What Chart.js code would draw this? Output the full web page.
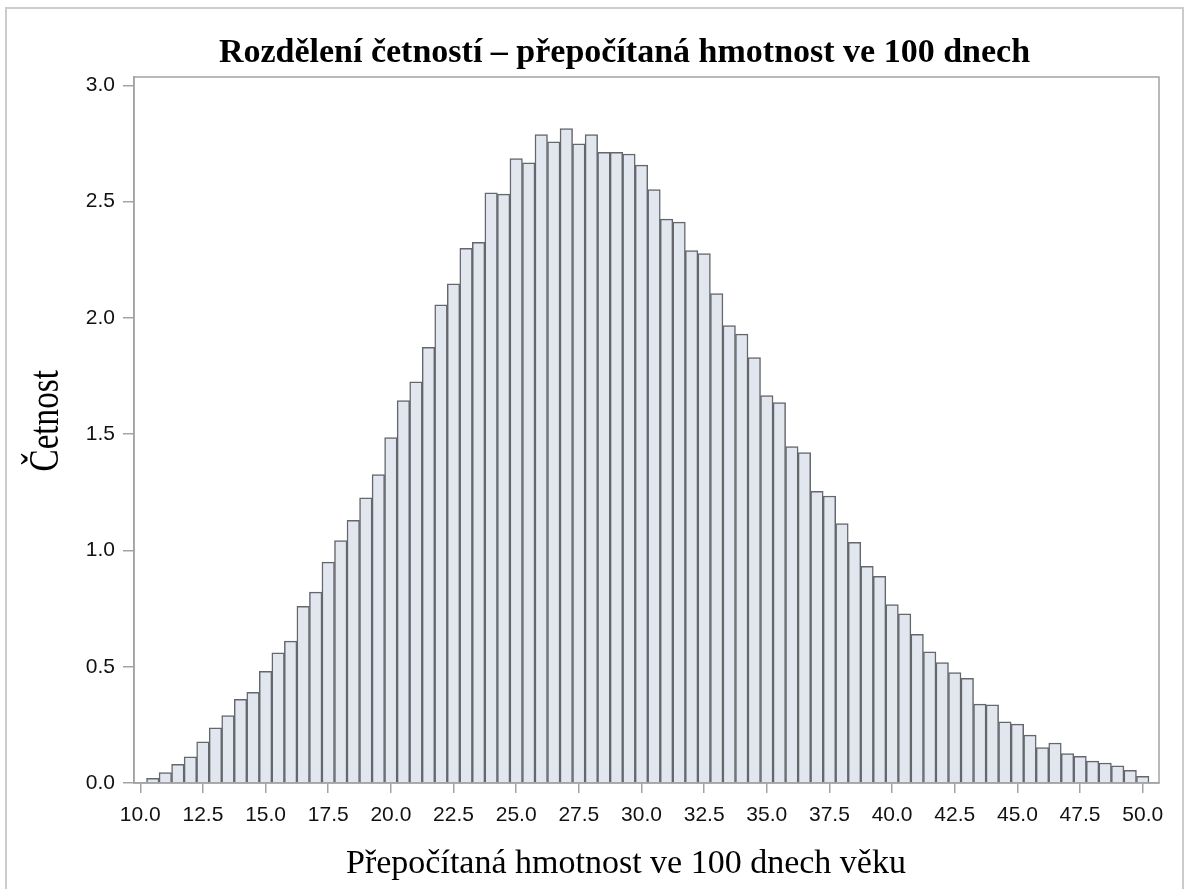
<html lang="cs">

<head>
    <meta charset="UTF-8">
    <title>Rozdělení četností</title>
    <script src="https://cdn.jsdelivr.net/npm/chart.js@4.4.1/dist/chart.umd.min.js"></script>
    <style>
        body { margin: 0; background: #fff; }
    </style>
</head>

<body>
    <canvas id="chart" width="1188" height="889"></canvas>

    <script>
        // bin centres (width 0.5)
        const bins = [
            10.5, 11.0, 11.5, 12.0, 12.5, 13.0, 13.5, 14.0, 14.5, 15.0,
            15.5, 16.0, 16.5, 17.0, 17.5, 18.0, 18.5, 19.0, 19.5, 20.0,
            20.5, 21.0, 21.5, 22.0, 22.5, 23.0, 23.5, 24.0, 24.5, 25.0,
            25.5, 26.0, 26.5, 27.0, 27.5, 28.0, 28.5, 29.0, 29.5, 30.0,
            30.5, 31.0, 31.5, 32.0, 32.5, 33.0, 33.5, 34.0, 34.5, 35.0,
            35.5, 36.0, 36.5, 37.0, 37.5, 38.0, 38.5, 39.0, 39.5, 40.0,
            40.5, 41.0, 41.5, 42.0, 42.5, 43.0, 43.5, 44.0, 44.5, 45.0,
            45.5, 46.0, 46.5, 47.0, 47.5, 48.0, 48.5, 49.0, 49.5, 50.0
        ];
        // relative frequency
        const freq = [
            0.020, 0.045, 0.080, 0.113, 0.177, 0.237, 0.290, 0.360, 0.390, 0.480,
            0.560, 0.610, 0.760, 0.821, 0.950, 1.043, 1.130, 1.226, 1.326, 1.485,
            1.644, 1.725, 1.874, 2.056, 2.147, 2.299, 2.325, 2.538, 2.532, 2.685,
            2.667, 2.788, 2.757, 2.814, 2.749, 2.788, 2.712, 2.712, 2.705, 2.657,
            2.552, 2.425, 2.412, 2.290, 2.277, 2.105, 1.967, 1.930, 1.829, 1.666,
            1.636, 1.447, 1.421, 1.254, 1.234, 1.116, 1.035, 0.932, 0.889, 0.767,
            0.728, 0.639, 0.564, 0.518, 0.475, 0.450, 0.339, 0.336, 0.263, 0.253,
            0.206, 0.152, 0.172, 0.126, 0.115, 0.094, 0.086, 0.074, 0.054, 0.029
        ];
        const xTicks = [10.0, 12.5, 15.0, 17.5, 20.0, 22.5, 25.0, 27.5, 30.0, 32.5, 35.0, 37.5, 40.0, 42.5, 45.0, 47.5, 50.0];
        const yTicks = [0.0, 0.5, 1.0, 1.5, 2.0, 2.5, 3.0];

        const chartTitle = 'Rozdělení četností – přepočítaná hmotnost ve 100 dnech';
        const xTitle = 'Přepočítaná hmotnost ve 100 dnech věku';
        const yTitle = 'Četnost';

        const axisGray = '#a3a3a3';
        const serif = '"Liberation Serif", "Times New Roman", serif';

        // outer frame, box round the plot area and the three titles
        const decor = {
            id: 'decor',
            beforeDraw(chart) {
                const c = chart.ctx;
                c.save();
                c.strokeStyle = '#cccccc';
                c.lineWidth = 2;
                c.strokeRect(6, 8, 1177, 900);
                c.restore();
            },
            afterDatasetsDraw(chart) {
                const a = chart.chartArea;
                const c = chart.ctx;
                c.save();
                c.strokeStyle = axisGray;
                c.lineWidth = 1.5;
                c.strokeRect(a.left, a.top, a.right - a.left, a.bottom - a.top);
                c.restore();
            },
            afterDraw(chart) {
                const c = chart.ctx;
                c.save();
                c.fillStyle = '#000';
                c.textBaseline = 'alphabetic';
                c.textAlign = 'center';
                c.font = 'bold 34px ' + serif;
                c.fillText(chartTitle, 624.5, 62);
                c.font = '34px ' + serif;
                c.fillText(xTitle, 626, 873);
                // y title, rotated
                c.translate(57.5, 471.5);
                c.rotate(-Math.PI / 2);
                c.scale(0.79, 1);
                c.textAlign = 'left';
                c.font = '42px ' + serif;
                c.fillText(yTitle, 0, 0);
                c.restore();
            }
        };

        const ctx = document.getElementById('chart').getContext('2d');
        new Chart(ctx, {
            type: 'bar',
            data: {
                datasets: [{
                    data: bins.map((b, i) => ({ x: b, y: freq[i] })),
                    backgroundColor: '#e2e6ef',
                    borderColor: '#64676c',
                    borderWidth: 1.5,
                    barPercentage: 1.0,
                    categoryPercentage: 1.0
                }]
            },
            options: {
                responsive: false,
                animation: false,
                layout: { padding: { left: 0, right: 29, top: 77, bottom: 0 } },
                plugins: {
                    legend: { display: false },
                    tooltip: { enabled: false },
                    title: { display: false }
                },
                scales: {
                    x: {
                        type: 'linear',
                        min: 9.75,
                        max: 50.65,
                        offset: false,
                        afterBuildTicks: s => { s.ticks = xTicks.map(v => ({ value: v })); },
                        afterFit: s => { s.height = 106; },
                        ticks: {
                            color: '#111',
                            font: { family: '"Liberation Sans", Arial, sans-serif', size: 21 },
                            padding: 10,
                            maxRotation: 0,
                            autoSkip: false,
                            callback: v => v.toFixed(1)
                        },
                        grid: { offset: false, drawOnChartArea: false, color: axisGray, tickLength: 10, lineWidth: 1.5 },
                        border: { color: axisGray, width: 1.5 }
                    },
                    y: {
                        min: 0,
                        max: 3.036,
                        afterBuildTicks: s => { s.ticks = yTicks.map(v => ({ value: v })); },
                        afterFit: s => { s.width = 134; },
                        ticks: {
                            color: '#111',
                            font: { family: '"Liberation Sans", Arial, sans-serif', size: 21 },
                            padding: 8,
                            callback: v => v.toFixed(1)
                        },
                        grid: { drawOnChartArea: false, color: axisGray, tickLength: 11, lineWidth: 1.5 },
                        border: { color: axisGray, width: 1.5 }
                    }
                }
            },
            plugins: [decor]
        });
    </script>

</body>

</html>
